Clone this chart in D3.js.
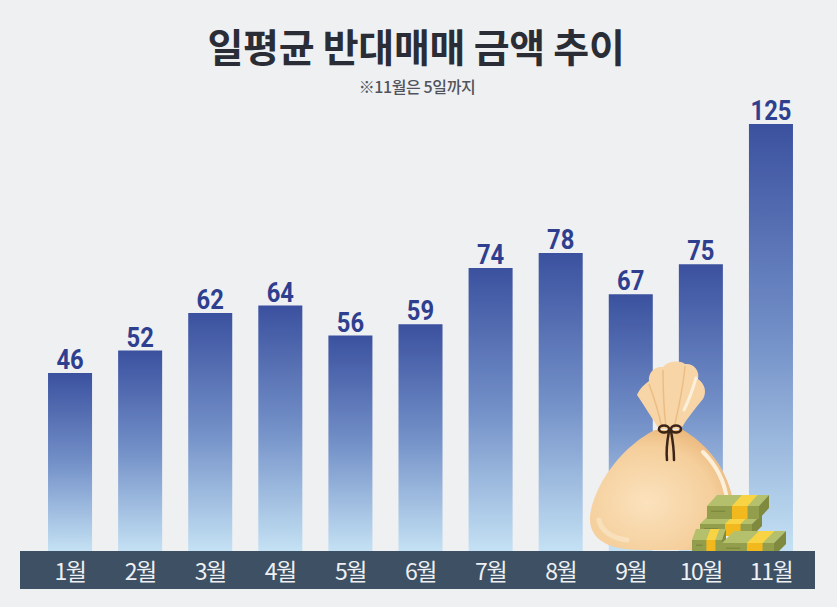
<!DOCTYPE html>
<html><head><meta charset="utf-8">
<script src="https://cdn.jsdelivr.net/npm/d3@7"></script>
<style>
html,body{margin:0;padding:0;background:#eff0f2;}
svg{display:block;}
</style></head>
<body>
<script>
const categories = ["1월","2월","3월","4월","5월","6월","7월","8월","9월","10월","11월"];
const values = [46,52,62,64,56,59,74,78,67,75,125];
const title = "일평균 반대매매 금액 추이";
const subtitle = "※11월은 5일까지";

const W = 837, H = 607;
const svg = d3.select("body").append("svg").attr("width", W).attr("height", H);
svg.append("rect").attr("width", W).attr("height", H).attr("fill", "#eff0f2");

const defs = svg.append("defs");
const g = defs.append("linearGradient").attr("id","barGrad").attr("x1",0).attr("y1",0).attr("x2",0).attr("y2",1);
g.append("stop").attr("offset","0%").attr("stop-color","#3b519f");
g.append("stop").attr("offset","50%").attr("stop-color","#7390c8");
g.append("stop").attr("offset","100%").attr("stop-color","#c4e1f4");

const bagGrad = defs.append("radialGradient").attr("id","bagGrad").attr("cx","40%").attr("cy","60%").attr("r","65%");
bagGrad.append("stop").attr("offset","0%").attr("stop-color","#fbe2bd");
bagGrad.append("stop").attr("offset","70%").attr("stop-color","#f5cf9c");
bagGrad.append("stop").attr("offset","100%").attr("stop-color","#ebb87c");

const bandTop = 551;
const x = d3.scaleBand().domain(categories).range([35, 806]).paddingInner(0.372).paddingOuter(0.186);
// the 11월 bar is cut off at the top of the chart area (clamped)
const y = d3.scaleLinear().domain([0, 112.4]).range([545.5, 124]).clamp(true);

// title
svg.append("text").attr("x", 416).attr("y", 62).attr("text-anchor","middle")
  .attr("font-family","'Noto Sans CJK KR', sans-serif").attr("font-weight",700).attr("font-size",39)
  .attr("letter-spacing",-0.3).attr("fill","#2a2d35").text(title);
svg.append("text").attr("x", 417).attr("y", 93).attr("text-anchor","middle")
  .attr("font-family","'Noto Sans CJK KR', sans-serif").attr("font-weight",500).attr("font-size",16)
  .attr("letter-spacing",-0.4).attr("fill","#50545c").text(subtitle);

// bars
svg.append("g").selectAll("rect").data(values).join("rect")
  .attr("x", (d,i) => x(categories[i]))
  .attr("y", d => y(d))
  .attr("width", x.bandwidth())
  .attr("height", d => bandTop - y(d))
  .attr("fill", "url(#barGrad)");

// value labels
svg.append("g").selectAll("text").data(values).join("text")
  .attr("transform", (d,i) => `translate(${x(categories[i]) + x.bandwidth()/2},${y(d) - 4}) scale(0.85,1)`)
  .attr("text-anchor","middle")
  .attr("font-family","Roboto, 'Noto Sans', sans-serif").attr("font-weight",700).attr("font-size",28)
  .attr("fill","#2f3f8f").text(d => d);

// money bag illustration (decorative)
const deco = svg.append("g");
deco.append("path").attr("d","M655,430 C626,444 598,478 591,510 C585,536 604,550 640,550 L700,550 C727,548 739,522 731,492 C723,462 703,442 683,430 Z")
  .attr("fill","url(#bagGrad)");
deco.append("path").attr("d","M703,452 C717,466 725,484 727,500").attr("stroke","#fdf0da").attr("stroke-width",4).attr("fill","none").attr("stroke-linecap","round");
deco.append("path").attr("d","M599,520 C601,530 611,538 627,540").attr("stroke","#f9e3c2").attr("stroke-width",5).attr("fill","none").attr("stroke-linecap","round").attr("opacity",0.8);
deco.append("path").attr("d","M659,429 C652,418 643,404 637,395 C640,388 645,384 649,381 C648,372 655,366 663,367 C668,361 679,360 685,364 C694,363 700,371 698,379 C705,384 707,392 703,399 C695,409 687,418 681,429 Z")
  .attr("fill","#f7d5a6");
deco.append("path").attr("d","M663,370 C663,392 664,410 666,428 M685,366 C683,390 678,410 674,428 M649,384 C655,400 659,414 662,428")
  .attr("stroke","#ebbd85").attr("stroke-width",1.5).attr("fill","none");
deco.append("path").attr("d","M696,378 C692,392 688,402 684,410").attr("stroke","#fdf0da").attr("stroke-width",3).attr("fill","none").attr("stroke-linecap","round");
deco.append("path").attr("d","M657,430 C666,434 674,434 683,430").attr("stroke","#e4ad70").attr("stroke-width",3).attr("fill","none");
deco.append("ellipse").attr("cx",664).attr("cy",429).attr("rx",5).attr("ry",3.5).attr("fill","none").attr("stroke","#3b2418").attr("stroke-width",2.5);
deco.append("ellipse").attr("cx",676).attr("cy",429).attr("rx",5).attr("ry",3.5).attr("fill","none").attr("stroke","#3b2418").attr("stroke-width",2.5);
deco.append("path").attr("d","M669,431 C667,442 666,452 667,460 M671,431 C673,442 674,452 674,460")
  .attr("stroke","#3b2418").attr("stroke-width",2.5).attr("fill","none").attr("stroke-linecap","round");

function bundle(x0, y0, w, h, dx, dy) {
  const b = deco.append("g");
  b.append("path").attr("d",`M${x0},${y0} L${x0+w},${y0} L${x0+w+dx},${y0-dy} L${x0+dx},${y0-dy} Z`).attr("fill","#b5c06c");
  b.append("path").attr("d",`M${x0},${y0} L${x0+w},${y0} L${x0+w},${y0+h} L${x0},${y0+h} Z`).attr("fill","#939e4d");
  b.append("path").attr("d",`M${x0+w},${y0} L${x0+w+dx},${y0-dy} L${x0+w+dx},${y0-dy+h} L${x0+w},${y0+h} Z`).attr("fill","#7f8a3e");
  const bx = x0 + w*0.48, bw = w*0.3;
  b.append("path").attr("d",`M${bx},${y0} L${bx+bw},${y0} L${bx+bw+dx},${y0-dy} L${bx+dx},${y0-dy} Z`).attr("fill","#f8d445");
  b.append("path").attr("d",`M${bx},${y0} L${bx+bw},${y0} L${bx+bw},${y0+h} L${bx},${y0+h} Z`).attr("fill","#f2b91e");
  b.append("path").attr("d",`M${x0+4},${y0+h*0.4} L${x0+w*0.35},${y0+h*0.4}`).attr("stroke","#6f7a33").attr("stroke-width",0.8);
}
bundle(700, 524, 52, 12, 10, 10);
bundle(707, 506, 52, 13, 10, 11);
bundle(692, 540, 30, 13, 4, 11);
bundle(722, 543, 52, 13, 12, 12);

svg.append("rect").attr("x",20).attr("y",bandTop).attr("width",795).attr("height",38).attr("fill","#3e5064");
const xAxis = d3.axisBottom(x).tickSize(0).tickPadding(0);
const ax = svg.append("g").attr("transform","translate(0,570)").call(xAxis);
ax.select(".domain").remove();
ax.selectAll("text").attr("dy",null).attr("y",0).attr("dominant-baseline","central")
  .attr("font-family","'Noto Sans CJK KR', sans-serif").attr("font-weight",400).attr("font-size",23)
  .attr("letter-spacing",-1.5).attr("fill","#eef0f3");
</script>
</body></html>
